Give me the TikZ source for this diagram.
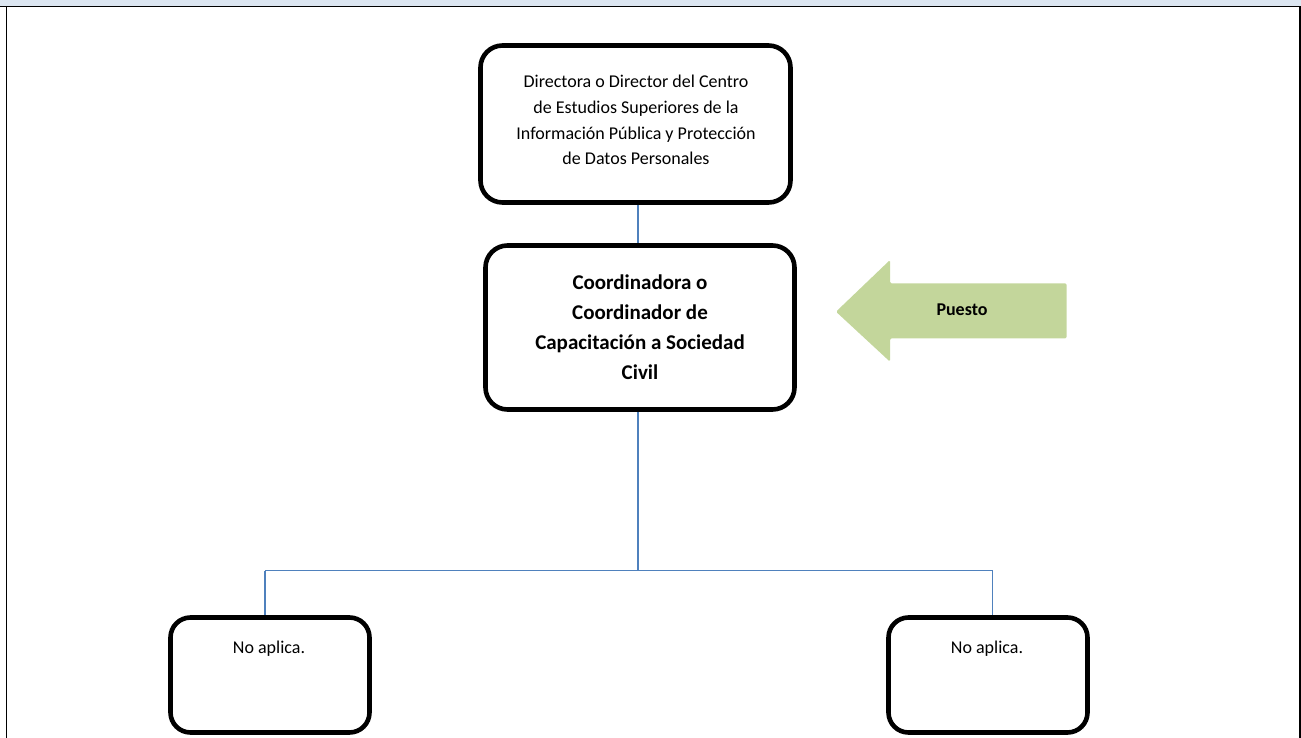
\documentclass[tikz,border=0pt]{standalone}
\usepackage{fontspec}
\setmainfont{Carlito}
\definecolor{connblue}{HTML}{4F81BD}
\definecolor{headblue}{HTML}{DCE6F1}
\definecolor{arrowgreen}{HTML}{C3D69B}
\begin{document}
\begin{tikzpicture}[x=1pt,y=-1pt,
  box/.style={draw=black, line width=4.6pt, rounded corners=22pt, fill=white, inner sep=0pt},
  smallbox/.style={box, rounded corners=20pt, minimum width=199pt, minimum height=115pt},
  conn/.style={draw=connblue, line width=1.8pt},
  frame/.style={draw=black, line width=1.8pt},
  plain/.style={font=\fontsize{18}{25.7}\selectfont, align=center, inner sep=0pt},
  boldtxt/.style={font=\bfseries\fontsize{21}{30}\selectfont, align=center, inner sep=0pt}]
\useasboundingbox (0,0) rectangle (1301,738);
% header band and frame
\fill[headblue] (0,0) rectangle (1301,6);
\draw[frame] (0,6.5) -- (1301,6.5);
\draw[frame] (6.5,6.5) -- (6.5,738);
\draw[frame] (1299.8,6.5) -- (1299.8,738);
% boxes
\node[box, minimum width=310pt, minimum height=157pt] (top) at (635.5,124) {};
\node[plain] (toptxt) at (636,120) {Directora o Director del Centro\\de Estudios Superiores de la\\Información Pública y Protección\\de Datos Personales};
\node[box, minimum width=309pt, minimum height=164pt, boldtxt] (mid) at (640,327.5) {Coordinadora o\\Coordinador de\\Capacitación a Sociedad\\Civil};
\node[smallbox] (left) at (270,675) {};
\node[smallbox] (right) at (988,675) {};
\node[plain, anchor=base] (lefttxt) at (269,653) {No aplica.};
\node[plain, anchor=base] (righttxt) at (987,653) {No aplica.};
% arrow
\fill[arrowgreen, rounded corners=1.5pt] (836,311.7) -- (890,260) -- (890,283.3) -- (1066.7,283.3) -- (1066.7,338.3) -- (890,338.3) -- (890,361.7) -- cycle;
\node[font=\bfseries\fontsize{18}{22}\selectfont, anchor=base, inner sep=0pt] (puesto) at (962,315.7) {Puesto};
% connectors
\coordinate (j) at (638,570.5);
\coordinate (jl) at (265,570.5);
\coordinate (jr) at (992.5,570.5);
\draw[conn] (top.south -| j) -- (mid.north -| j);
\draw[conn] (mid.south -| j) -- (j);
\draw[conn] (jl) -- (jr);
\draw[conn] (jl) -- (jl |- left.north);
\draw[conn] (jr) -- (jr |- right.north);
\end{tikzpicture}
\end{document}
